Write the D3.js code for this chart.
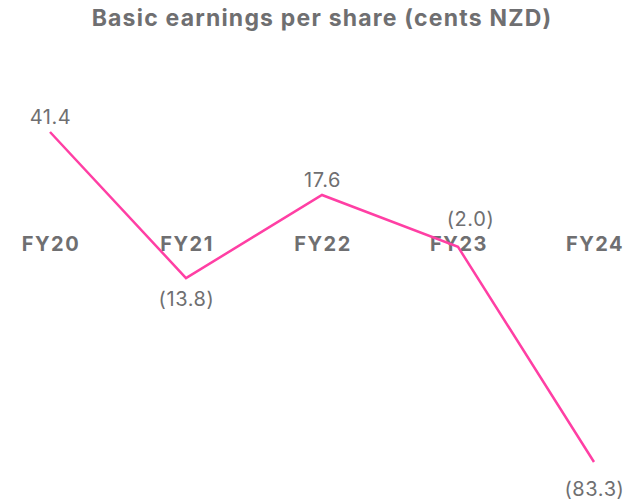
<!DOCTYPE html>
<html>
<head>
<meta charset="utf-8">
<script src="https://cdn.jsdelivr.net/npm/d3@7"></script>
<style>
  body { margin: 0; background: #fff; }
  text { font-family: "Inter", sans-serif; fill: #6f6f71; }
</style>
</head>
<body>
<svg width="632" height="504"></svg>
<script>
var years = ["FY20", "FY21", "FY22", "FY23", "FY24"];
var eps = [41.4, -13.8, 17.6, -2.0, -83.3];
var labelSide = ["above", "below", "above", "above", "below"];

var svg = d3.select("svg"),
    width = +svg.attr("width"),
    height = +svg.attr("height");

var x = d3.scalePoint()
    .domain(years)
    .range([50, 594]);

var y = d3.scaleLinear()
    .domain([-83.3, 41.4])
    .range([462, 132]);

var fmt = function(v) {
  var s = Math.abs(v).toFixed(1);
  return v < 0 ? "(" + s + ")" : s;
};

svg.append("text")
    .attr("x", 322)
    .attr("y", 26)
    .attr("text-anchor", "middle")
    .style("font-size", "23px")
    .style("font-weight", "bold")
    .style("letter-spacing", "1.2px")
    .text("Basic earnings per share (cents NZD)");

// category labels sit on the zero line
svg.append("g")
  .selectAll("text")
  .data(years)
  .enter().append("text")
    .attr("x", function(d) { return x(d) + 1; })
    .attr("y", y(0) + 9)
    .attr("text-anchor", "middle")
    .style("font-size", "20px")
    .style("font-weight", "bold")
    .style("letter-spacing", "1.5px")
    .text(function(d) { return d; });

var pts = years.map(function(d, i) { return {year: d, v: eps[i], side: labelSide[i]}; });

var line = d3.line()
    .x(function(d) { return x(d.year); })
    .y(function(d) { return y(d.v); });

svg.append("path")
    .datum(pts)
    .attr("fill", "none")
    .attr("stroke", "#ff3fa4")
    .attr("stroke-width", 2.5)
    .attr("stroke-linejoin", "miter")
    .attr("d", line);

function dy(d) {
  if (d.year == "FY23") return -21;
  if (d.year == "FY24") return 34;
  return d.side == "above" ? -8 : 28;
}

svg.append("g")
  .selectAll("text")
  .data(pts)
  .enter().append("text")
    .attr("x", function(d) { return x(d.year) + (d.year == "FY23" ? 12 : 0) + 0.5; })
    .attr("y", function(d) { return y(d.v) + dy(d); })
    .attr("text-anchor", "middle")
    .style("font-size", "20px")
    .style("letter-spacing", "0.6px")
    .text(function(d) { return fmt(d.v); });
</script>
</body>
</html>
